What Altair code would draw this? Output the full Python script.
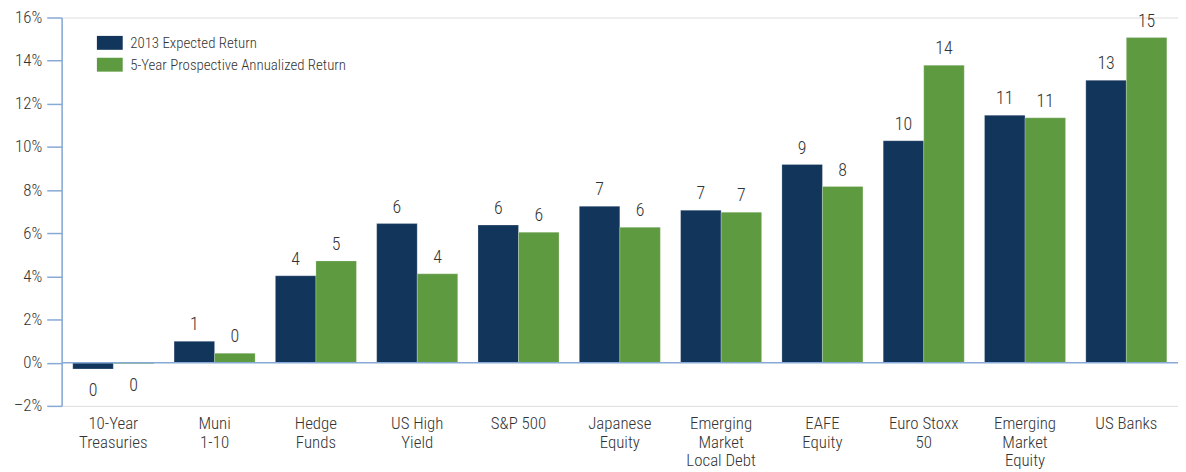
import altair as alt
import pandas as pd

categories = ["10-Year|Treasuries", "Muni|1-10", "Hedge|Funds", "US High|Yield", "S&P 500",
              "Japanese|Equity", "Emerging|Market|Local Debt", "EAFE|Equity", "Euro Stoxx|50",
              "Emerging|Market|Equity", "US Banks"]
series_names = ["2013 Expected Return", "5-Year Prospective Annualized Return"]
expected_2013 = [-0.29, 0.99, 4.03, 6.45, 6.38, 7.25, 7.07, 9.19, 10.29, 11.47, 13.09]
prospective_5y = [-0.05, 0.44, 4.72, 4.12, 6.05, 6.28, 6.98, 8.17, 13.79, 11.35, 15.07]
labels_2013 = ["0", "1", "4", "6", "6", "7", "7", "9", "10", "11", "13"]
labels_5y = ["0", "0", "5", "4", "6", "6", "7", "8", "14", "11", "15"]
colors = ["#12355b", "#5e9a40"]

rows = []
for i, c in enumerate(categories):
    rows.append({"category": c, "series": series_names[0], "value": expected_2013[i], "label": labels_2013[i]})
    rows.append({"category": c, "series": series_names[1], "value": prospective_5y[i], "label": labels_5y[i]})
df = pd.DataFrame(rows)

FONT = "Liberation Sans Narrow, Roboto Condensed, Roboto, sans-serif"
AXIS_BLUE = "#86a9d6"
W = 300

x = alt.X("category:N", sort=categories, title=None,
          scale=alt.Scale(paddingInner=0.2, paddingOuter=0.11),
          axis=alt.Axis(labelAngle=0, domain=False, ticks=False, labelPadding=10,
                        labelExpr="split(datum.label, '|')", labelFontSize=17,
                        labelLineHeight=18.5, labelBaseline="top", labelColor="#333333",
                        labelFont=FONT, labelFontWeight=W, labelLimit=200))
xoff = alt.XOffset("series:N", sort=series_names)
y = alt.Y("value:Q", title=None,
          scale=alt.Scale(domain=[-2, 16], nice=False, zero=False),
          axis=alt.Axis(values=list(range(-2, 17, 2)), grid=False, tickSize=15, tickWidth=1.5,
                        tickColor=AXIS_BLUE, domainColor=AXIS_BLUE, domainWidth=1.5,
                        labelPadding=5, labelFontSize=17, labelColor="#333333", labelFont=FONT,
                        labelFontWeight=W,
                        labelExpr="(datum.value < 0 ? '–' : '') + abs(datum.value) + '%'"))

bars = alt.Chart(df).mark_bar(stroke="#ffffff", strokeWidth=0.6, strokeOpacity=0.4).encode(
    x=x, xOffset=xoff, y=y, y2=alt.datum(0),
    color=alt.Color("series:N", sort=series_names,
                    scale=alt.Scale(domain=series_names, range=colors),
                    legend=alt.Legend(title=None, orient="none", legendX=41, legendY=18,
                                      symbolType="M-1.857,-1L1.857,-1L1.857,1L-1.857,1Z",
                                      symbolSize=196, symbolStrokeWidth=0, labelFontSize=15,
                                      labelFont=FONT, labelFontWeight=W, labelColor="#333333",
                                      labelOffset=13, labelLimit=400, rowPadding=6, padding=0))
)

pos_text = alt.Chart(df).transform_filter("datum.value >= 0").mark_text(
    baseline="bottom", dy=-7, fontSize=18, font=FONT, fontWeight=W, color="#333333"
).encode(x=x, xOffset=xoff, y=y, text="label:N")

neg_text = alt.Chart(df).transform_filter("datum.value < 0").mark_text(
    baseline="top", dy=13, fontSize=18, font=FONT, fontWeight=W, color="#333333"
).encode(x=x, xOffset=xoff, y=y, text="label:N")

zero = alt.Chart(pd.DataFrame({"z": [0]})).mark_rule(color=AXIS_BLUE, strokeWidth=1.5).encode(
    y=alt.Y("z:Q", scale=alt.Scale(domain=[-2, 16], nice=False, zero=False))
)

chart = alt.layer(bars, zero, pos_text, neg_text).properties(
    width=1124, height=391,
    autosize=alt.AutoSizeParams(type="none"),
    padding={"left": 54, "top": 8, "right": 0, "bottom": 65},
).configure_view(stroke=None).configure(background="#ffffff")

chart.save("out.html", embed_options={"renderer": "svg", "actions": False})
